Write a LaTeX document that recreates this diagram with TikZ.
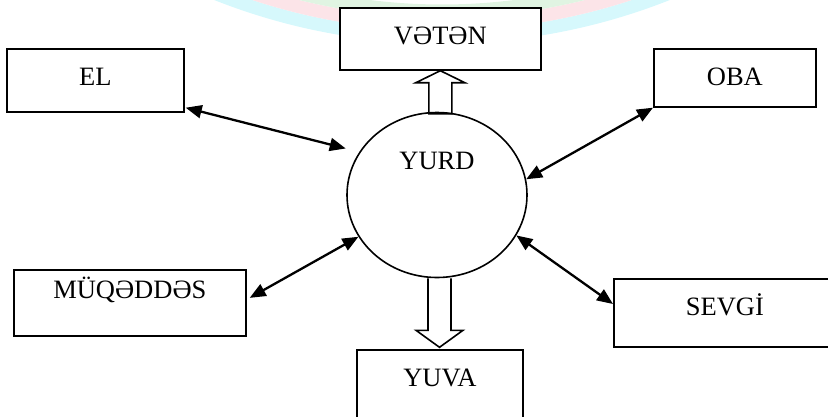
\documentclass[tikz,border=0pt]{standalone}
\usepackage{fontspec}
\setmainfont{Liberation Serif}
\usepackage{tikz}
\usetikzlibrary{arrows.meta,shapes.geometric,calc}
\definecolor{wmcyan}{RGB}{214,248,252}
\definecolor{wmpink}{RGB}{252,228,232}
\definecolor{wmgreen}{RGB}{224,244,226}

\begin{document}
\begin{tikzpicture}[
  x=1pt, y=-1pt,
  font=\fontsize{26.5}{30}\selectfont,
  wordbox/.style={
    draw,
    line width=1.7pt,
    fill=white,
    rectangle,
    inner sep=0pt,
    anchor=north west,
    text height=36.3pt
    },
  yurdcirc/.style={
    draw,
    ellipse,
    line width=1.6pt,
    fill=white,
    inner sep=0pt,
    minimum width=180pt,
    minimum height=165pt,
    text height=18pt,
    text depth=70pt
    },
  dblarrow/.style={
    {Triangle[length=16pt,width=13pt]}-{Triangle[length=16pt,width=13pt]},
    line width=2.3pt
    },
  hollowarrow/.style={draw, line width=1.6pt, line join=miter}
]
\useasboundingbox (0,0) rectangle (828,416);

% faint watermark band
\draw[wmcyan, line width=13pt] (442,-575) ++(67:612) arc (67:113:612);
\draw[wmpink, line width=13pt] (442,-575) ++(67:599) arc (67:113:599);
\draw[wmgreen, line width=13pt] (442,-575) ++(67:586) arc (67:113:586);

\node[wordbox, minimum width=201pt, text depth=25.7pt] (veten) at (339,7) {VƏTƏN};
\node[wordbox, minimum width=177pt, text depth=26.7pt] (el) at (6,48) {EL};
\node[wordbox, minimum width=162pt, text depth=21.7pt] (oba) at (653,48) {OBA};
\node[wordbox, minimum width=232pt, text height=28.7pt, text depth=37.3pt] (muqeddes) at (13,269) {MÜQƏDDƏS};
\node[wordbox, minimum width=222pt, text depth=32pt] (sevgi) at (613,278) {SEVGİ};
\node[wordbox, minimum width=166pt, text depth=40pt] (yuva) at (356,349) {YUVA};

\node[yurdcirc] (yurd) at (437,195) {YURD};

\draw[hollowarrow] (veten.south) -- ++(24.5,12) -- ++(-13,0) -- ++(0,31)
  -- ++(-23,0) -- ++(0,-31) -- ++(-13,0) -- cycle;
\draw[hollowarrow] ($(yurd.south)+(-9,0)$) -- ++(0,52) -- ++(-12,0) -- ++(23.5,17)
  -- ++(23.5,-17) -- ++(-12,0) -- ++(0,-52);

\draw[dblarrow, shorten >=14pt] ($(el.south east)+(1,-5)$) -- (yurd.151);
\draw[dblarrow] (oba.south west) -- (yurd.10);
\draw[dblarrow] ($(muqeddes.east)+(3,-5)$) -- (yurd.208);
\draw[dblarrow] ($(sevgi.west)+(0,-9)$) -- (yurd.333);

\end{tikzpicture}
\end{document}
